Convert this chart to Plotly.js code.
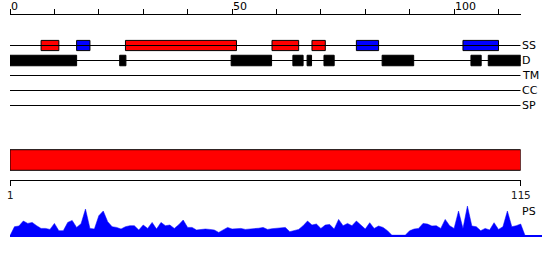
<!DOCTYPE html>
<html>
<head>
<meta charset="utf-8">
<script src="https://cdn.plot.ly/plotly-3.0.1.min.js"></script>
<style>html,body{margin:0;padding:0;background:#fff}#chart{width:550px;height:260px}</style>
</head>
<body>
<div id="chart"></div>
<script>
// ---- data ----
const seqLength = 115;
const trackNames = ['SS', 'D', 'TM', 'CC', 'SP'];
const topTickVals = [0, 10, 20, 30, 40, 50, 60, 70, 80, 90, 100, 110];
const topTickText = ['0', '', '', '', '', '50', '', '', '', '', '100', ''];
const bottomTickVals = [1, 115];
const bottomTickText = ['1', '115'];

// secondary structure: helices (red) and strands (blue)
const helixStart = [7, 26, 59, 68];
const helixEnd   = [11, 51, 65, 71];
const strandStart = [15, 78, 102];
const strandEnd   = [18, 83, 110];

// disorder (black)
const disStart = [0, 24.7, 49.8, 63.7, 66.9, 70.7, 83.8, 103.8, 107.7];
const disEnd   = [15, 26.1, 58.9, 66, 67.9, 73, 90.9, 106.1, 115];

// full-length domain bar
const domainStart = [1];
const domainEnd = [115];

// PS profile (residue index, value)
const psValues = [0,
  9, 9.7, 14.7, 12.3, 13.3, 10, 7.3, 7.3, 6.3, 12.3,
  5, 5, 13.3, 15.3, 8.3, 12, 26.7, 7.3, 6.7, 20,
  24.7, 14, 9, 8.3, 6.7, 9, 10, 10, 5.7, 10.7,
  7.3, 13.3, 6.7, 13.3, 10, 10.7, 7.3, 11, 15.7, 8.3,
  8.3, 5.7, 6.3, 6.7, 6.3, 5.7, 3.3, 6, 8.3, 6.7,
  7, 7.3, 6.3, 6.5, 6.7, 7.5, 8.3, 6.3, 7, 7.3,
  7.3, 8.3, 4, 5, 6.3, 10, 14.7, 10.7, 11.7, 7.3,
  10.7, 11.3, 6.7, 16.3, 10, 12.3, 10, 14.7, 10.7, 6.7,
  13, 7.3, 9.7, 8.3, 5, 0.5, 0.5, 0.5, 0.5, 5,
  6.7, 7.3, 12.3, 11.7, 9.7, 10, 7.3, 16.3, 10, 7.3,
  24.7, 7.3, 29.7, 9.7, 9, 5, 7.3, 5.7, 13, 6.3,
  9, 24.7, 9, 10, 11.7,
  0];
const psPos = psValues.map((v, i) => i);

// ---- traces ----
const traces = [];
// track lines
trackNames.forEach((name, i) => {
  traces.push({
    type: 'scatter', mode: 'lines', xaxis: 'x', yaxis: 'y',
    x: [0, seqLength], y: [i + 1, i + 1],
    line: {color: 'black', width: 1}, hoverinfo: 'skip'
  });
});
function boxTrace(starts, ends, yIdx, color, xa, ya, w) {
  return {
    type: 'bar', orientation: 'h', xaxis: xa, yaxis: ya,
    base: starts,
    x: ends.map((e, i) => e - starts[i]),
    y: starts.map(() => yIdx),
    width: w,
    marker: {color: color, line: {color: 'black', width: 1}},
    hoverinfo: 'skip'
  };
}
traces.push(boxTrace(helixStart, helixEnd, 1, '#ff0000', 'x', 'y', 0.68));
traces.push(boxTrace(strandStart, strandEnd, 1, '#0000ff', 'x', 'y', 0.68));
traces.push(boxTrace(disStart, disEnd, 2, '#000000', 'x', 'y', 0.7));
traces.push(boxTrace(domainStart, domainEnd, 0, '#ff0000', 'x2', 'y2', 1.03));

traces.push({
  type: 'scatter', mode: 'lines', xaxis: 'x3', yaxis: 'y3',
  x: psPos, y: psValues, fill: 'tozeroy',
  fillcolor: '#0000ff', line: {color: '#0000ff', width: 0.5},
  hoverinfo: 'skip'
});

const W = 550, H = 260;
const px = v => v / W;
const py = v => 1 - v / H;
const xDom = [px(10), px(520.7)];

const annotations = trackNames.map((name, i) => ({
  xref: 'x', yref: 'y', x: seqLength, y: i + 1,
  text: name, showarrow: false, xanchor: 'left', yanchor: 'middle',
  xshift: -1,
  font: {family: 'DejaVu Sans', size: 11, color: 'black'}
}));
annotations.push({
  xref: 'paper', yref: 'paper', x: px(520), y: py(211),
  text: 'PS', showarrow: false, xanchor: 'left', yanchor: 'middle',
  font: {family: 'DejaVu Sans', size: 11, color: 'black'}
});

const layout = {
  width: W, height: H,
  margin: {l: 0, r: 0, t: 0, b: 0, pad: 0},
  paper_bgcolor: 'white', plot_bgcolor: 'white',
  showlegend: false, barmode: 'overlay',
  font: {family: 'DejaVu Sans', size: 11, color: 'black'},
  xaxis: {
    domain: xDom, range: [0, seqLength], anchor: 'y', side: 'top',
    showline: true, linecolor: 'black', linewidth: 1,
    ticks: 'outside', ticklen: 5, tickcolor: 'black', tickwidth: 1,
    tickvals: topTickVals, ticktext: topTickText,
    ticklabelposition: 'outside right',
    showgrid: false, zeroline: false, fixedrange: true,
    tickfont: {family: 'DejaVu Sans', size: 11, color: 'black'}
  },
  yaxis: {
    domain: [py(120), py(15)], range: [6 - 0.5 / 15, -1 - 0.5 / 15], anchor: 'x',
    showticklabels: false, ticks: '', showgrid: false, zeroline: false, showline: false
  },
  xaxis2: {
    domain: xDom, range: [1, seqLength], anchor: 'y2', side: 'bottom',
    showline: true, linecolor: 'black', linewidth: 1,
    ticks: 'outside', ticklen: 5, tickcolor: 'black', tickwidth: 1,
    tickvals: bottomTickVals, ticktext: bottomTickText,
    showgrid: false, zeroline: false,
    tickfont: {family: 'DejaVu Sans Mono', size: 11, color: '#222'}
  },
  yaxis2: {
    domain: [py(180), py(140)], range: [-1, 1], anchor: 'x2',
    showticklabels: false, ticks: '', showgrid: false, zeroline: false, showline: false
  },
  xaxis3: {
    domain: [px(10), px(542)], range: [0, 532 / ((520.7 - 10) / seqLength)], anchor: 'y3',
    visible: false
  },
  yaxis3: {
    domain: [py(236.7), py(205.7)], range: [-1, 30], anchor: 'x3',
    showticklabels: false, ticks: '', showgrid: false,
    zeroline: true, zerolinecolor: '#0000ff', zerolinewidth: 2, showline: false
  },
  annotations: annotations
};

Plotly.newPlot('chart', traces, layout, {staticPlot: true, displayModeBar: false});
</script>
</body>
</html>
